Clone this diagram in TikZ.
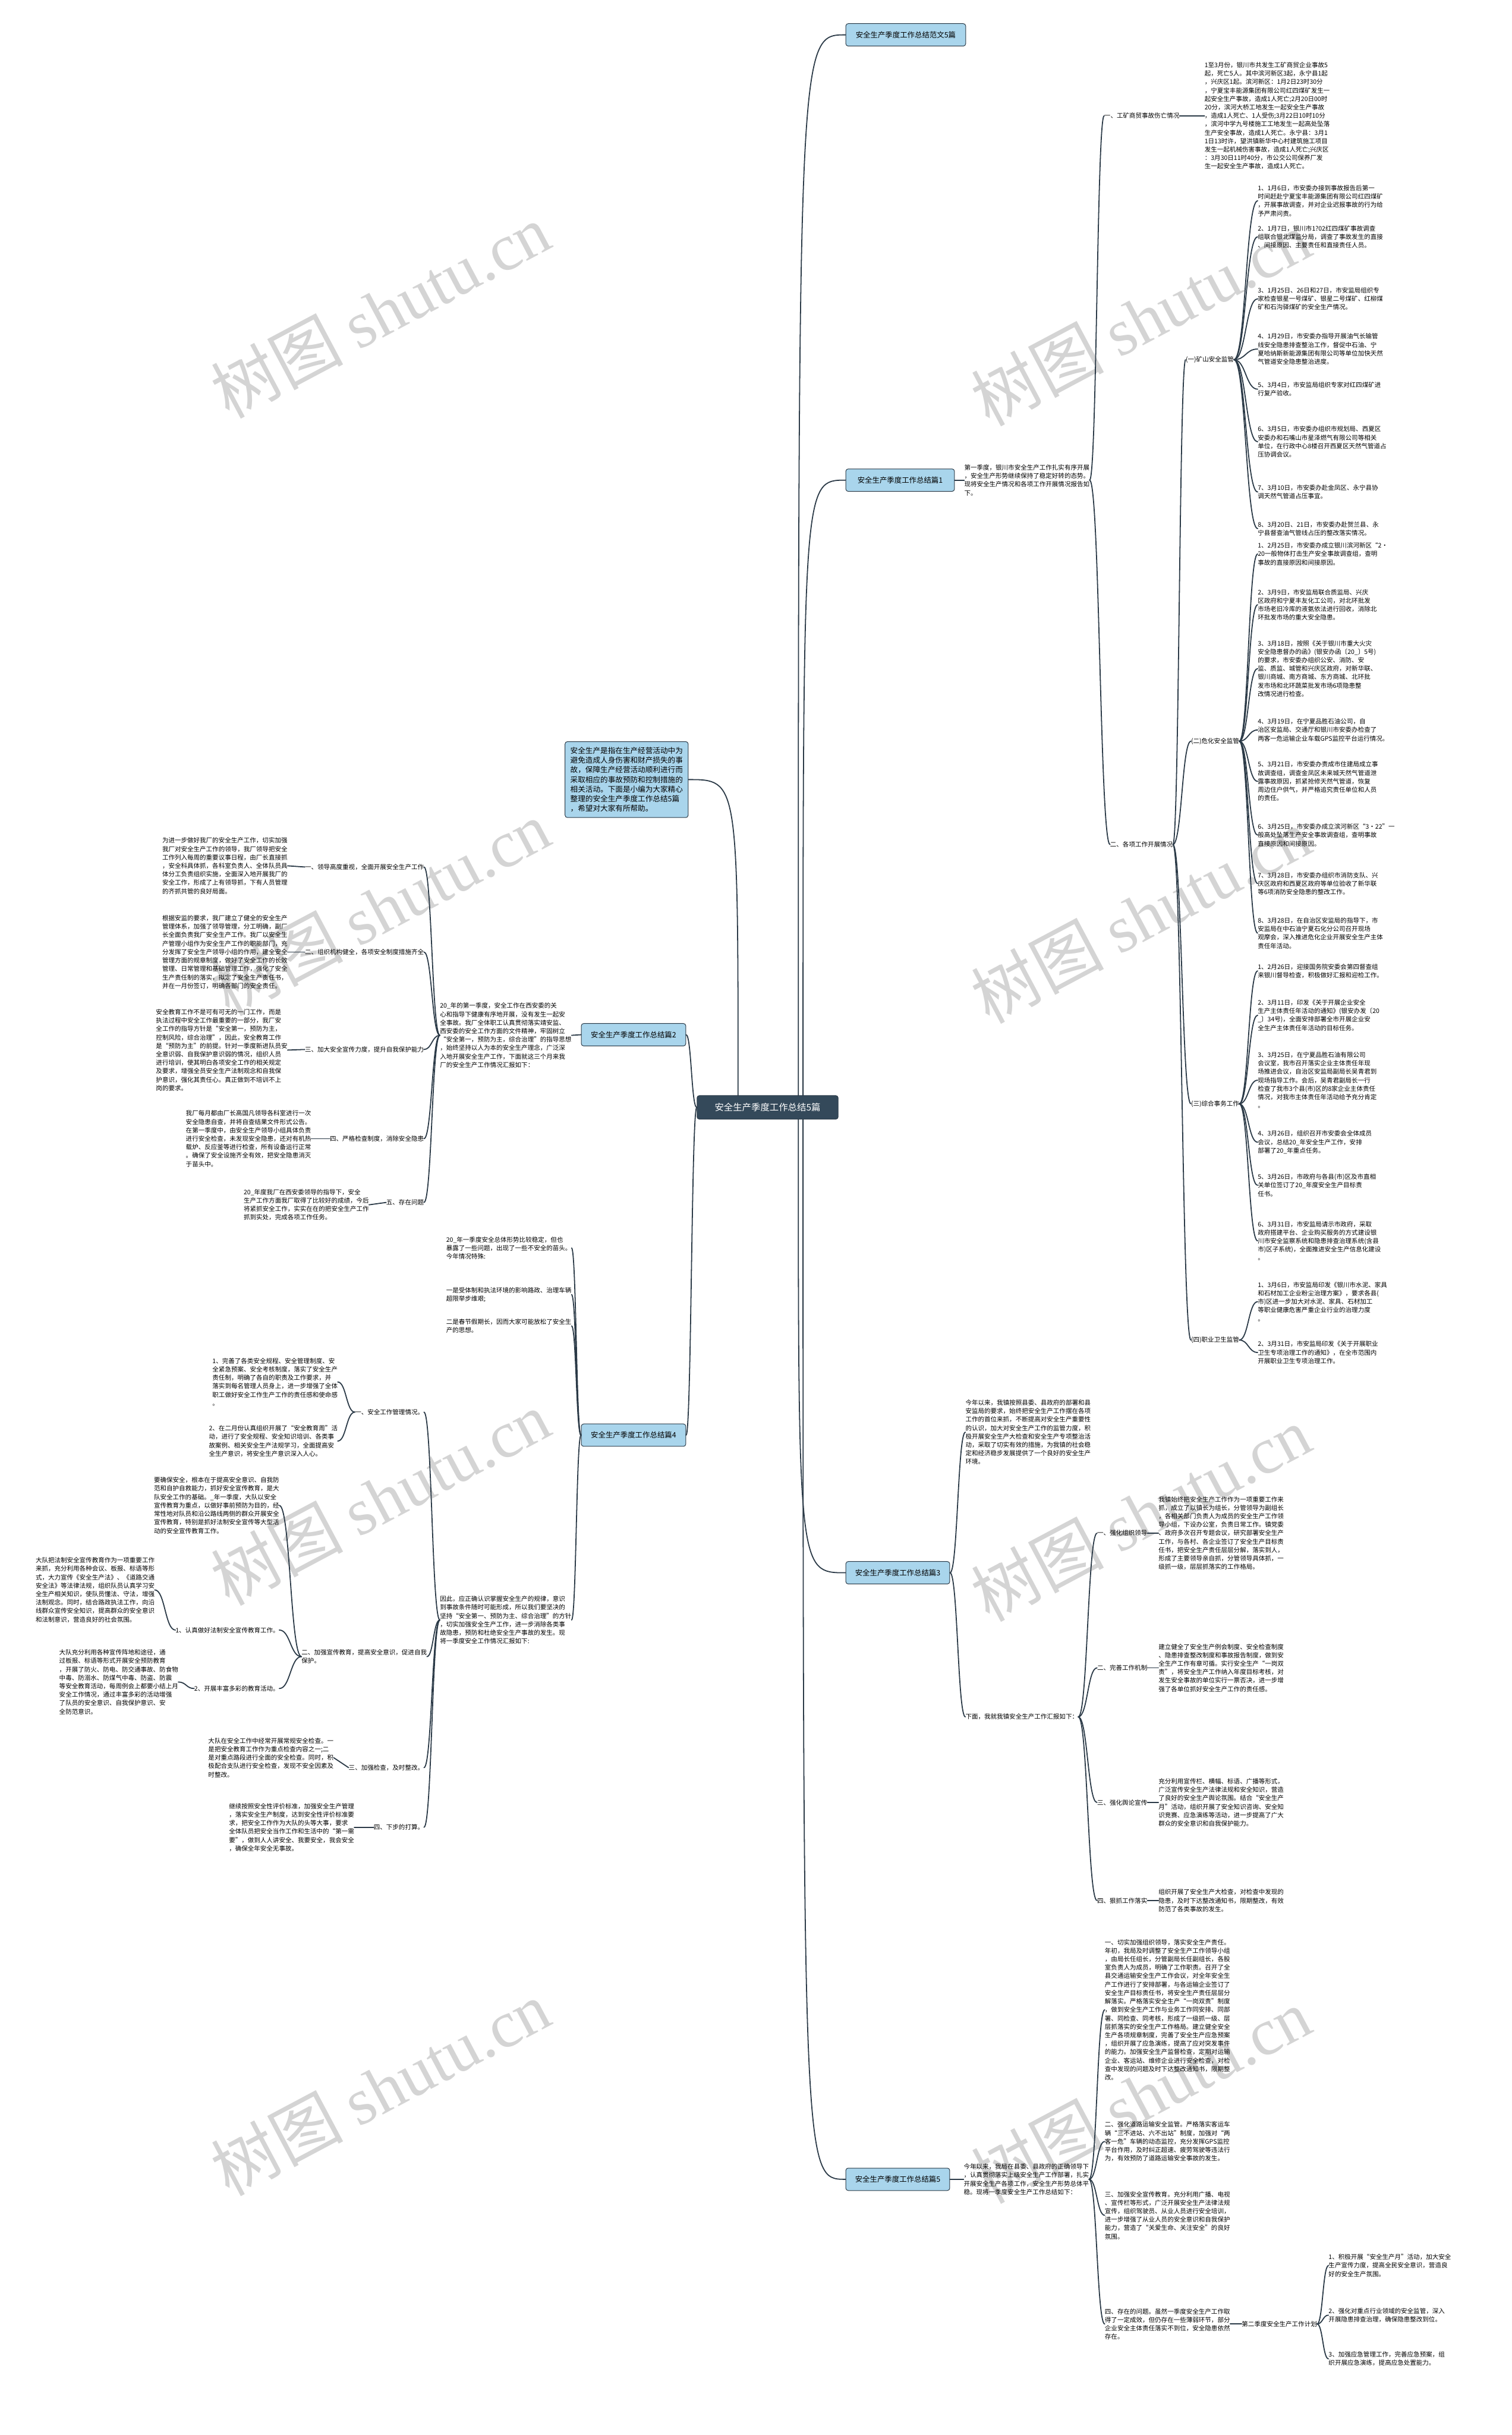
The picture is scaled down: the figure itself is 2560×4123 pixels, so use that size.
\documentclass[tikz,border=0pt]{standalone}
\usepackage{fontspec}
\setmainfont{Noto Sans CJK SC}
\newfontfamily\wmlatin{Liberation Serif}
\usetikzlibrary{calc}
\definecolor{linkc}{HTML}{2B3A47}
\definecolor{rootc}{HTML}{34495A}
\definecolor{mainc}{HTML}{A9D5EC}
\definecolor{wmc}{HTML}{D4D4D4}

\begin{document}
\begin{tikzpicture}[x=1pt,y=-1pt,line join=round,line cap=round,
  link/.style={draw=linkc,line width=1.8pt},
  fan/.style={to path={.. controls ($(\tikztostart)!.5!(\tikztostart-|\tikztotarget)$) and ($(\tikztotarget-|\tikztostart)!.5!(\tikztotarget)$) .. (\tikztotarget)}},
  root/.style={fill=rootc,draw=linkc,line width=1pt,rounded corners=4pt,text=white,font=\fontsize{15.5}{19}\selectfont,minimum width=239pt,minimum height=40pt},
  main/.style={fill=mainc,draw=linkc,line width=1pt,rounded corners=4pt,font=\fontsize{12.5}{16}\selectfont,minimum height=38pt},
  txt/.style={align=left,inner sep=0pt,font=\fontsize{10.6}{14.3}\selectfont},
  wm/.style={text=wmc,rotate=28,inner sep=0pt,font=\fontsize{112}{112}\selectfont}]
\useasboundingbox[fill=white] (0,0) rectangle (2560,4123);
% watermarks
\foreach \wx/\wy in {644/526,1932/539,644/1537,1932/1550,644/2536,1932/2563,644/3535,1932/3548}
  \node[wm] at (\wx,\wy) {树图 {\wmlatin shutu.cn}};

% root and main topics
\node[root] (root) at (1300,1875) {安全生产季度工作总结5篇};
\node[main,anchor=west,minimum width=203pt] (fw) at (1432,59) {安全生产季度工作总结范文5篇};
\node[main,anchor=west,minimum width=184pt] (p1) at (1432,813) {安全生产季度工作总结篇1};
\node[main,anchor=west,minimum width=176pt] (p3) at (1432,2663) {安全生产季度工作总结篇3};
\node[main,anchor=west,minimum width=176pt] (p5) at (1432,3690) {安全生产季度工作总结篇5};
\node[main,anchor=east,minimum width=177pt] (p2) at (1162,1752) {安全生产季度工作总结篇2};
\node[main,anchor=east,minimum width=177pt] (p4) at (1162,2430) {安全生产季度工作总结篇4};
\node[main,anchor=east,align=left,inner sep=9pt,font=\fontsize{12.7}{16.4}\selectfont] (intro) at (1166,1320) {安全生产是指在生产经营活动中为\\避免造成人身伤害和财产损失的事\\故，保障生产经营活动顺利进行而\\采取相应的事故预防和控制措施的\\相关活动。下面是小编为大家精心\\整理的安全生产季度工作总结5篇\\，希望对大家有所帮助。};
\draw[link] (1352,1855) .. controls (1352,59) .. (fw.west);
\draw[link] (1360,1855) .. controls (1360,813) .. (p1.west);
\draw[link] (1352,1895) .. controls (1352,2663) .. (p3.west);
\draw[link] (1360,1895) .. controls (1360,3690) .. (p5.west);
\draw[link] (1250,1855) .. controls (1250,1320) .. (intro.east);
\draw[link] (root.west) to[fan] (p2.east);
\draw[link] (root.west) to[fan] (p4.east);

% part 1
\node[txt,anchor=west] (a0) at (1633,813) {第一季度，银川市安全生产工作扎实有序开展\\，安全生产形势继续保持了稳定好转的态势。\\现将安全生产情况和各项工作开展情况报告如\\下。};
\draw[link] (p1.east) -- (a0.west);
\node[txt,anchor=west] (a1) at (1870,196) {一、工矿商贸事故伤亡情况};
\node[txt,anchor=west] (a2) at (1880,1430) {二、各项工作开展情况};
\draw[link] (a0.east) to[fan] (a1.west);
\draw[link] (a0.east) to[fan] (a2.west);
\node[txt,anchor=west] (a1t) at (2040,196) {1至3月份，银川市共发生工矿商贸企业事故5\\起，死亡5人。其中滨河新区3起，永宁县1起\\，兴庆区1起。滨河新区：1月2日23时30分\\，宁夏宝丰能源集团有限公司红四煤矿发生一\\起安全生产事故，造成1人死亡;2月20日00时\\20分，滨河大桥工地发生一起安全生产事故\\，造成1人死亡、1人受伤;3月22日10时10分\\，滨河中学九号楼施工工地发生一起高处坠落\\生产安全事故，造成1人死亡。永宁县：3月1\\1日13时许，望洪镇新华中心村建筑施工项目\\发生一起机械伤害事故，造成1人死亡;兴庆区\\：3月30日11时40分，市公交公司保养厂发\\生一起安全生产事故，造成1人死亡。};
\draw[link] (a1.east) -- (a1t.west);
\node[txt,anchor=west] (k1) at (2008,609) {(一)矿山安全监管};
\node[txt,anchor=west] (k2) at (2017,1255) {(二)危化安全监管};
\node[txt,anchor=west] (k3) at (2017,1869) {(三)综合事务工作};
\node[txt,anchor=west] (k4) at (2017,2269) {(四)职业卫生监管};
\foreach \k in {k1,k2,k3,k4} \draw[link] (a2.east) to[fan] (\k.west);
% (一)
\node[txt,anchor=west] (k1a) at (2130,340) {1、1月6日，市安委办接到事故报告后第一\\时间赶赴宁夏宝丰能源集团有限公司红四煤矿\\，开展事故调查，并对企业迟报事故的行为给\\予严肃问责。};
\node[txt,anchor=west] (k1b) at (2130,401) {2、1月7日，银川市1?02红四煤矿事故调查\\组联合银北煤监分局，调查了事故发生的直接\\、间接原因、主要责任和直接责任人员。};
\node[txt,anchor=west] (k1c) at (2130,506) {3、1月25日、26日和27日，市安监局组织专\\家检查银星一号煤矿、银星二号煤矿、红柳煤\\矿和石沟驿煤矿的安全生产情况。};
\node[txt,anchor=west] (k1d) at (2130,591) {4、1月29日，市安委办指导开展油气长输管\\线安全隐患排查整治工作，督促中石油、宁\\夏哈纳斯新能源集团有限公司等单位加快天然\\气管道安全隐患整治进度。};
\node[txt,anchor=west] (k1e) at (2130,659) {5、3月4日，市安监局组织专家对红四煤矿进\\行复产验收。};
\node[txt,anchor=west] (k1f) at (2130,748) {6、3月5日，市安委办组织市规划局、西夏区\\安委办和石嘴山市星泽燃气有限公司等相关\\单位，在行政中心8楼召开西夏区天然气管道占\\压协调会议。};
\node[txt,anchor=west] (k1g) at (2130,833) {7、3月10日，市安委办赴金凤区、永宁县协\\调天然气管道占压事宜。};
\node[txt,anchor=west] (k1h) at (2130,895) {8、3月20日、21日，市安委办赴贺兰县、永\\宁县督查油气管线占压的整改落实情况。};
\foreach \n in {k1a,k1b,k1c,k1d,k1e,k1f,k1g,k1h} \draw[link] (k1.east) to[fan] (\n.west);
% (二)
\node[txt,anchor=west] (k2a) at (2130,938) {1、2月25日，市安委办成立银川滨河新区“2·\\20一般物体打击生产安全事故调查组，查明\\事故的直接原因和间接原因。};
\node[txt,anchor=west] (k2b) at (2130,1024) {2、3月9日，市安监局联合质监局、兴庆\\区政府和宁夏丰友化工公司，对北环批发\\市场老旧冷库的液氨依法进行回收，消除北\\环批发市场的重大安全隐患。};
\node[txt,anchor=west] (k2c) at (2130,1132) {3、3月18日，按照《关于银川市重大火灾\\安全隐患督办的函》(银安办函〔20\_〕5号)\\的要求，市安委办组织公安、消防、安\\监、质监、城管和兴庆区政府，对新华联、\\银川商城、南方商城、东方商城、北环批\\发市场和北环蔬菜批发市场6项隐患整\\改情况进行检查。};
\node[txt,anchor=west] (k2d) at (2130,1236) {4、3月19日，在宁夏品胜石油公司，自\\治区安监局、交通厅和银川市安委办检查了\\两客一危运输企业车载GPS监控平台运行情况。};
\node[txt,anchor=west] (k2e) at (2130,1323) {5、3月21日，市安委办责成市住建局成立事\\故调查组，调查金凤区未来城天然气管道泄\\露事故原因，抓紧抢修天然气管道，恢复\\周边住户供气，并严格追究责任单位和人员\\的责任。};
\node[txt,anchor=west] (k2f) at (2130,1414) {6、3月25日，市安委办成立滨河新区“3·22”一\\般高处坠落生产安全事故调查组，查明事故\\直接原因和间接原因。};
\node[txt,anchor=west] (k2g) at (2130,1496) {7、3月28日，市安委办组织市消防支队、兴\\庆区政府和西夏区政府等单位验收了新华联\\等6项消防安全隐患的整改工作。};
\node[txt,anchor=west] (k2h) at (2130,1580) {8、3月28日，在自治区安监局的指导下，市\\安监局在中石油宁夏石化分公司召开现场\\观摩会，深入推进危化企业开展安全生产主体\\责任年活动。};
\foreach \n in {k2a,k2b,k2c,k2d,k2e,k2f,k2g,k2h} \draw[link] (k2.east) to[fan] (\n.west);
% (三)
\node[txt,anchor=west] (k3a) at (2130,1644) {1、2月26日，迎接国务院安委会第四督查组\\来银川督导检查，积极做好汇报和迎检工作。};
\node[txt,anchor=west] (k3b) at (2130,1719) {2、3月11日，印发《关于开展企业安全\\生产主体责任年活动的通知》(银安办发〔20\\\_〕34号)，全面安排部署全市开展企业安\\全生产主体责任年活动的目标任务。};
\node[txt,anchor=west] (k3c) at (2130,1829) {3、3月25日，在宁夏品胜石油有限公司\\会议室，我市召开落实企业主体责任年现\\场推进会议，自治区安监局副局长吴青君到\\现场指导工作。会后，吴青君副局长一行\\检查了我市3个县(市)区的8家企业主体责任\\情况，对我市主体责任年活动给予充分肯定\\。};
\node[txt,anchor=west] (k3d) at (2130,1934) {4、3月26日，组织召开市安委会全体成员\\会议，总结20\_年安全生产工作，安排\\部署了20\_年重点任务。};
\node[txt,anchor=west] (k3e) at (2130,2007) {5、3月26日，市政府与各县(市)区及市直相\\关单位签订了20\_年度安全生产目标责\\任书。};
\node[txt,anchor=west] (k3f) at (2130,2101) {6、3月31日，市安监局请示市政府，采取\\政府搭建平台、企业购买服务的方式建设银\\川市安全监察系统和隐患排查治理系统(含县\\市)区子系统)，全面推进安全生产信息化建设\\。};
\foreach \n in {k3a,k3b,k3c,k3d,k3e,k3f} \draw[link] (k3.east) to[fan] (\n.west);
% (四)
\node[txt,anchor=west] (k4a) at (2130,2204) {1、3月6日，市安监局印发《银川市水泥、家具\\和石材加工企业粉尘治理方案》，要求各县(\\市)区进一步加大对水泥、家具、石材加工\\等职业健康危害严重企业行业的治理力度\\。};
\node[txt,anchor=west] (k4b) at (2130,2290) {2、3月31日，市安监局印发《关于开展职业\\卫生专项治理工作的通知》，在全市范围内\\开展职业卫生专项治理工作。};
\foreach \n in {k4a,k4b} \draw[link] (k4.east) to[fan] (\n.west);

% part 2
\node[txt,anchor=east] (b0) at (968,1753) {20\_年的第一季度，安全工作在西安委的关\\心和指导下健康有序地开展，没有发生一起安\\全事故。我厂全体职工认真贯彻落实靖安监、\\西安委的安全工作方面的文件精神，牢固树立\\“安全第一，预防为主，综合治理”的指导思想\\，始终坚持以人为本的安全生产理念，广泛深\\入地开展安全生产工作，下面就这三个月来我\\厂的安全生产工作情况汇报如下：};
\draw[link] (p2.west) -- (b0.east);
\node[txt,anchor=east] (b1) at (718,1468) {一、领导高度重视，全面开展安全生产工作};
\node[txt,anchor=east] (b2) at (718,1612) {二、组织机构健全，各项安全制度措施齐全};
\node[txt,anchor=east] (b3) at (718,1777) {三、加大安全宣传力度，提升自我保护能力};
\node[txt,anchor=east] (b4) at (718,1928) {四、严格检查制度，消除安全隐患};
\node[txt,anchor=east] (b5) at (718,2036) {五、存在问题};
\foreach \n in {b1,b2,b3,b4,b5} \draw[link] (b0.west) to[fan] (\n.east);
\node[txt,anchor=east] (b1t) at (487,1466) {为进一步做好我厂的安全生产工作，切实加强\\我厂对安全生产工作的领导，我厂领导把安全\\工作列入每周的重要议事日程，由厂长直接抓\\，安全科具体抓，各科室负责人、全体队员具\\体分工负责组织实施，全面深入地开展我厂的\\安全工作，形成了上有领导抓，下有人员管理\\的齐抓共管的良好局面。};
\node[txt,anchor=east] (b2t) at (487,1612) {根据安监的要求，我厂建立了健全的安全生产\\管理体系，加强了领导管理，分工明确，副厂\\长全面负责我厂安全生产工作。我厂以安全生\\产管理小组作为安全生产工作的职能部门，充\\分发挥了安全生产领导小组的作用，建全安全\\管理方面的规章制度，做好了安全工作的长效\\管理、日常管理和基础管理工作，强化了安全\\生产责任制的落实，拟定了安全生产责任书，\\并在一月份签订，明确各部门的安全责任。};
\node[txt,anchor=east] (b3t) at (487,1778) {安全教育工作不是可有可无的一门工作，而是\\执法过程中安全工作最重要的一部分，我厂安\\全工作的指导方针是“安全第一，预防为主，\\控制风险，综合治理”，因此，安全教育工作\\是“预防为主”的前提。针对一季度新进队员安\\全意识弱、自我保护意识弱的情况，组织人员\\进行培训，使其明白各项安全工作的相关规定\\及要求，增强全员安全生产法制观念和自我保\\护意识，强化其责任心。真正做到不培训不上\\岗的要求。};
\node[txt,anchor=east] (b4t) at (527,1928) {我厂每月都由厂长高国凡领导各科室进行一次\\安全隐患自查，并将自查结果文件形式公告。\\在第一季度中，由安全生产领导小组具体负责\\进行安全检查，未发现安全隐患，还对有机热\\载炉、反应釜等进行检查，所有设备运行正常\\。确保了安全设施齐全有效，把安全隐患消灭\\于苗头中。};
\node[txt,anchor=east] (b5t) at (625,2040) {20\_年度我厂在西安委领导的指导下，安全\\生产工作方面我厂取得了比较好的成绩，今后\\将紧抓安全工作，实实在在的把安全生产工作\\抓到实处，完成各项工作任务。};
\foreach \n in {b1,b2,b3,b4,b5} \draw[link] (\n.west) -- (\n t.east);

% part 4
\node[txt,anchor=east] (c0a) at (968,2113) {20\_年一季度安全总体形势比较稳定，但也\\暴露了一些问题，出现了一些不安全的苗头。\\今年情况特殊:};
\node[txt,anchor=east] (c0b) at (968,2192) {一是受体制和执法环境的影响路政、治理车辆\\超限举步维艰;};
\node[txt,anchor=east] (c0c) at (968,2245) {二是春节假期长，因而大家可能放松了安全生\\产的思想。};
\node[txt,anchor=east] (c0d) at (968,2743) {因此，应正确认识掌握安全生产的规律，意识\\到事故条件随时可能形成，所以我们要坚决的\\坚持“安全第一、预防为主、综合治理”的方针\\，切实加强安全生产工作，进一步消除各类事\\故隐患，预防和杜绝安全生产事故的发生。现\\将一季度安全工作情况汇报如下:};
\foreach \n in {c0a,c0b,c0c,c0d} \draw[link] (p4.west) to[fan] (\n.east);
\node[txt,anchor=east] (c1) at (718,2391) {一、安全工作管理情况。};
\node[txt,anchor=east] (c2) at (723,2805) {二、加强宣传教育，提高安全意识，促进自我\\保护。};
\node[txt,anchor=east] (c3) at (718,2993) {三、加强检查，及时整改。};
\node[txt,anchor=east] (c4) at (718,3094) {四、下步的打算。};
\foreach \n in {c1,c2,c3,c4} \draw[link] (c0d.west) to[fan] (\n.east);
\node[txt,anchor=east] (c1a) at (572,2340) {1、完善了各类安全规程、安全管理制度、安\\全紧急预案、安全考核制度，落实了安全生产\\责任制，明确了各自的职责及工作要求，并\\落实到每名管理人员身上，进一步增强了全体\\职工做好安全工作生产工作的责任感和使命感\\。};
\node[txt,anchor=east] (c1b) at (572,2440) {2、在二月份认真组织开展了“安全教育周”活\\动，进行了安全规程、安全知识培训、各类事\\故案例、相关安全生产法规学习，全面提高安\\全生产意识，将安全生产意识深入人心。};
\foreach \n in {c1a,c1b} \draw[link] (c1.west) to[fan] (\n.east);
\node[txt,anchor=east] (c2a) at (473,2549) {要确保安全，根本在于提高安全意识、自我防\\范和自护自救能力，抓好安全宣传教育，是大\\队安全工作的基础。\_年一季度，大队以安全\\宣传教育为重点，以做好事前预防为目的，经\\常性地对队员和沿公路线两侧的群众开展安全\\宣传教育，特别是抓好法制安全宣传等大型活\\动的安全宣传教育工作。};
\node[txt,anchor=east] (c2b) at (473,2760) {1、认真做好法制安全宣传教育工作。};
\node[txt,anchor=east] (c2c) at (473,2859) {2、开展丰富多彩的教育活动。};
\foreach \n in {c2a,c2b,c2c} \draw[link] (c2.west) to[fan] (\n.east);
\node[txt,anchor=east] (c2bt) at (262,2692) {大队把法制安全宣传教育作为一项重要工作\\来抓，充分利用各种会议、板报、标语等形\\式，大力宣传《安全生产法》、《道路交通\\安全法》等法律法规，组织队员认真学习安\\全生产相关知识，使队员懂法、守法，增强\\法制观念。同时，结合路政执法工作，向沿\\线群众宣传安全知识，提高群众的安全意识\\和法制意识，营造良好的社会氛围。};
\node[txt,anchor=east] (c2ct) at (302,2848) {大队充分利用各种宣传阵地和途径，通\\过板报、标语等形式开展安全预防教育\\，开展了防火、防电、防交通事故、防食物\\中毒、防溺水、防煤气中毒、防盗、防震\\等安全教育活动，每周例会上都要小结上月\\安全工作情况，通过丰富多彩的活动增强\\了队员的安全意识、自我保护意识、安\\全防范意识。};
\draw[link] (c2b.west) to[fan] (c2bt.east);
\draw[link] (c2c.west) to[fan] (c2ct.east);
\node[txt,anchor=east] (c3t) at (565,2976) {大队在安全工作中经常开展常规安全检查。一\\是把安全教育工作作为重点检查内容之一;二\\是对重点路段进行全面的安全检查。同时，积\\极配合支队进行安全检查，发现不安全因素及\\时整改。};
\draw[link] (c3.west) -- (c3t.east);
\node[txt,anchor=east] (c4t) at (600,3094) {继续按照安全性评价标准，加强安全生产管理\\，落实安全生产制度，达到安全性评价标准要\\求，把安全工作作为大队的头等大事，要求\\全体队员把安全当作工作和生活中的“第一需\\要”，做到人人讲安全、我要安全，我会安全\\，确保全年安全无事故。};
\draw[link] (c4.west) -- (c4t.east);

% part 3
\node[txt,anchor=west] (d0) at (1635,2425) {今年以来，我镇按照县委、县政府的部署和县\\安监局的要求，始终把安全生产工作摆在各项\\工作的首位来抓，不断提高对安全生产重要性\\的认识，加大对安全生产工作的监管力度，积\\极开展安全生产大检查和安全生产专项整治活\\动，采取了切实有效的措施，为我镇的社会稳\\定和经济稳步发展提供了一个良好的安全生产\\环境。};
\node[txt,anchor=west] (d1) at (1635,2907) {下面，我就我镇安全生产工作汇报如下：};
\foreach \n in {d0,d1} \draw[link] (p3.east) to[fan] (\n.west);
\node[txt,anchor=west] (d11) at (1858,2596) {一、强化组织领导};
\node[txt,anchor=west] (d12) at (1858,2824) {二、完善工作机制};
\node[txt,anchor=west] (d13) at (1858,3052) {三、强化舆论宣传};
\node[txt,anchor=west] (d14) at (1858,3218) {四、狠抓工作落实};
\foreach \n in {d11,d12,d13,d14} \draw[link] (d1.east) to[fan] (\n.west);
\node[txt,anchor=west] (d11t) at (1962,2596) {我镇始终把安全生产工作作为一项重要工作来\\抓，成立了以镇长为组长，分管领导为副组长\\，各相关部门负责人为成员的安全生产工作领\\导小组，下设办公室，负责日常工作。镇党委\\、政府多次召开专题会议，研究部署安全生产\\工作，与各村、各企业签订了安全生产目标责\\任书，把安全生产责任层层分解，落实到人，\\形成了主要领导亲自抓，分管领导具体抓，一\\级抓一级，层层抓落实的工作格局。};
\node[txt,anchor=west] (d12t) at (1962,2824) {建立健全了安全生产例会制度、安全检查制度\\、隐患排查整改制度和事故报告制度，做到安\\全生产工作有章可循。实行安全生产“一岗双\\责”，将安全生产工作纳入年度目标考核，对\\发生安全事故的单位实行一票否决，进一步增\\强了各单位抓好安全生产工作的责任感。};
\node[txt,anchor=west] (d13t) at (1962,3052) {充分利用宣传栏、横幅、标语、广播等形式，\\广泛宣传安全生产法律法规和安全知识，营造\\了良好的安全生产舆论氛围。结合“安全生产\\月”活动，组织开展了安全知识咨询、安全知\\识竞赛、应急演练等活动，进一步提高了广大\\群众的安全意识和自我保护能力。};
\node[txt,anchor=west] (d14t) at (1962,3218) {组织开展了安全生产大检查，对检查中发现的\\隐患，及时下达整改通知书，限期整改，有效\\防范了各类事故的发生。};
\foreach \n in {d11,d12,d13,d14} \draw[link] (\n.east) -- (\n t.west);

% part 5
\node[txt,anchor=west] (e0) at (1632,3690) {今年以来，我局在县委、县政府的正确领导下\\，认真贯彻落实上级安全生产工作部署，扎实\\开展安全生产各项工作，安全生产形势总体平\\稳。现将一季度安全生产工作总结如下：};
\draw[link] (p5.east) -- (e0.west);
\node[txt,anchor=west] (e1) at (1871,3403) {一、切实加强组织领导，落实安全生产责任。\\年初，我局及时调整了安全生产工作领导小组\\，由局长任组长，分管副局长任副组长，各股\\室负责人为成员，明确了工作职责。召开了全\\县交通运输安全生产工作会议，对全年安全生\\产工作进行了安排部署，与各运输企业签订了\\安全生产目标责任书，将安全生产责任层层分\\解落实。严格落实安全生产“一岗双责”制度\\，做到安全生产工作与业务工作同安排、同部\\署、同检查、同考核，形成了一级抓一级、层\\层抓落实的安全生产工作格局。建立健全安全\\生产各项规章制度，完善了安全生产应急预案\\，组织开展了应急演练，提高了应对突发事件\\的能力。加强安全生产监督检查，定期对运输\\企业、客运站、维修企业进行安全检查，对检\\查中发现的问题及时下达整改通知书，限期整\\改。};
\node[txt,anchor=west] (e2) at (1871,3626) {二、强化道路运输安全监管。严格落实客运车\\辆“三不进站、六不出站”制度，加强对“两\\客一危”车辆的动态监控，充分发挥GPS监控\\平台作用，及时纠正超速、疲劳驾驶等违法行\\为，有效预防了道路运输安全事故的发生。};
\node[txt,anchor=west] (e3) at (1871,3751) {三、加强安全宣传教育。充分利用广播、电视\\、宣传栏等形式，广泛开展安全生产法律法规\\宣传，组织驾驶员、从业人员进行安全培训，\\进一步增强了从业人员的安全意识和自我保护\\能力，营造了“关爱生命、关注安全”的良好\\氛围。};
\node[txt,anchor=west] (e4) at (1871,3935) {四、存在的问题。虽然一季度安全生产工作取\\得了一定成效，但仍存在一些薄弱环节，部分\\企业安全主体责任落实不到位，安全隐患依然\\存在。};
\foreach \n in {e1,e2,e3,e4} \draw[link] (e0.east) to[fan] (\n.west);
\node[txt,anchor=west] (f0) at (2103,3935) {第二季度安全生产工作计划};
\draw[link] (e4.east) -- (f0.west);
\node[txt,anchor=west] (f1) at (2250,3836) {1、积极开展“安全生产月”活动，加大安全\\生产宣传力度，提高全民安全意识，营造良\\好的安全生产氛围。};
\node[txt,anchor=west] (f2) at (2250,3920) {2、强化对重点行业领域的安全监管，深入\\开展隐患排查治理，确保隐患整改到位。};
\node[txt,anchor=west] (f3) at (2250,3994) {3、加强应急管理工作，完善应急预案，组\\织开展应急演练，提高应急处置能力。};
\foreach \n in {f1,f2,f3} \draw[link] (f0.east) to[fan] (\n.west);
\end{tikzpicture}
\end{document}
